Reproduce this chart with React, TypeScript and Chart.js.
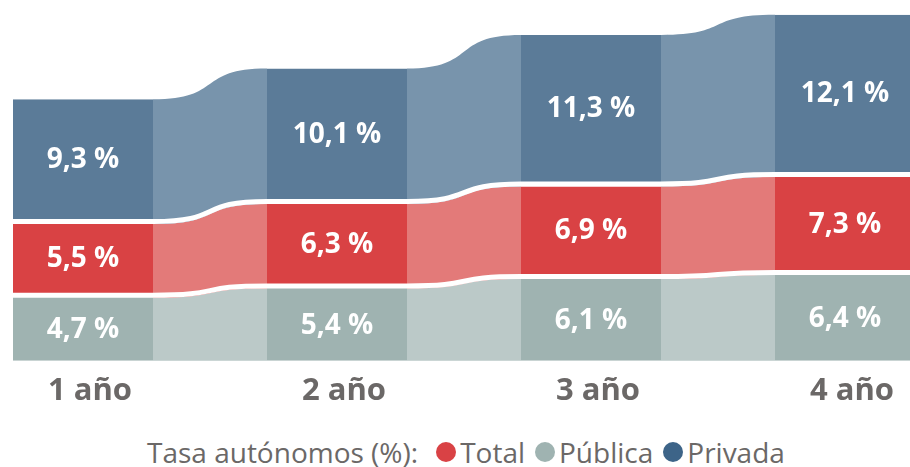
import React, { useEffect, useRef } from "react";
import { Chart, registerables } from "chart.js";

Chart.register(...registerables);

// ---- data ----
const categories = ["1 año", "2 año", "3 año", "4 año"];
const publica = [4.7, 5.4, 6.1, 6.4];
const total = [5.5, 6.3, 6.9, 7.3];
const privada = [9.3, 10.1, 11.3, 12.1];
const legendTitle = "Tasa autónomos (%):";
const legendNames = ["Total", "Pública", "Privada"];

// ---- styles ----
const barColors = ["#9fb3b1", "#d94244", "#5b7b98"];
const ribbonColors = ["#bbc9c8", "#e37a79", "#7894ac"];
const legendColors = ["#d94245", "#9fb3b1", "#3d6488"];
const GAP = 5;
const K = 0.62;
const FONT = '"Open Sans", "Noto Sans", sans-serif';
const XMIN = -83 / 254;
const XMAX = XMIN + 910 / 254;
const YMAX = 360 / 13.38;

function fmt(v: number) {
  return v.toFixed(1).replace(".", ",") + " %";
}

const ribbonPlugin = {
  id: "ribbons",
  beforeDatasetsDraw(chart: any) {
    const ctx = chart.ctx;
    const n = chart.data.datasets.length;
    ctx.save();
    for (let d = 0; d < n; d++) {
      const els = chart.getDatasetMeta(d).data;
      for (let i = 0; i < els.length - 1; i++) {
        const a = els[i].getProps(["x", "y", "base", "width"], true);
        const b = els[i + 1].getProps(["x", "y", "base", "width"], true);
        const x0 = a.x + a.width / 2;
        const x1 = b.x - b.width / 2;
        const w = x1 - x0;
        ctx.beginPath();
        ctx.moveTo(x0, a.y);
        ctx.bezierCurveTo(x0 + w * K, a.y, x1 - w * K, b.y, x1, b.y);
        ctx.lineTo(x1, b.base);
        ctx.bezierCurveTo(x1 - w * K, b.base, x0 + w * K, a.base, x0, a.base);
        ctx.closePath();
        ctx.fillStyle = ribbonColors[d];
        ctx.fill();
      }
    }
    for (let d = 1; d < n; d++) {
      const els = chart.getDatasetMeta(d).data;
      for (let i = 0; i < els.length - 1; i++) {
        const a = els[i].getProps(["x", "y", "base", "width"], true);
        const b = els[i + 1].getProps(["x", "y", "base", "width"], true);
        const x0 = a.x + a.width / 2;
        const x1 = b.x - b.width / 2;
        const w = x1 - x0;
        const ya = a.base - GAP / 2;
        const yb = b.base - GAP / 2;
        ctx.beginPath();
        ctx.moveTo(x0, ya);
        ctx.bezierCurveTo(x0 + w * K, ya, x1 - w * K, yb, x1, yb);
        ctx.lineWidth = GAP;
        ctx.strokeStyle = "#ffffff";
        ctx.stroke();
      }
    }
    ctx.restore();
  },
};

const labelPlugin = {
  id: "segLabels",
  afterDatasetsDraw(chart: any) {
    const ctx = chart.ctx;
    ctx.save();
    ctx.font = `bold 28px ${FONT}`;
    ctx.fillStyle = "#ffffff";
    ctx.textAlign = "center";
    ctx.textBaseline = "middle";
    chart.data.datasets.forEach((ds: any, d: number) => {
      const els = chart.getDatasetMeta(d).data;
      els.forEach((el: any, i: number) => {
        const p = el.getProps(["x", "y", "base"], true);
        const gap = d > 0 ? GAP : 0;
        const cy = (p.y + p.base - gap) / 2;
        ctx.fillText(fmt(ds.data[i].y), p.x, cy + 1);
      });
    });
    ctx.restore();
  },
};

export default function App() {
  const ref = useRef<HTMLCanvasElement>(null);

  useEffect(() => {
    const canvas = ref.current;
    if (!canvas) return;
    const mk = (vals: number[]) => vals.map((v, i) => ({ x: i, y: v }));
    const sep = { top: 0, left: 0, right: 0, bottom: GAP };
    const chart = new Chart(canvas, {
      type: "bar",
      data: {
        datasets: [
          { label: "Pública", data: mk(publica), backgroundColor: barColors[0], borderWidth: 0 },
          { label: "Total", data: mk(total), backgroundColor: barColors[1], borderColor: "#ffffff", borderWidth: sep, borderSkipped: false },
          { label: "Privada", data: mk(privada), backgroundColor: barColors[2], borderColor: "#ffffff", borderWidth: sep, borderSkipped: false },
        ] as any,
      },
      options: {
        animation: false,
        responsive: true,
        maintainAspectRatio: false,
        layout: { padding: 0 },
        datasets: { bar: { barThickness: 140, inflateAmount: 0 } as any },
        plugins: { legend: { display: false }, tooltip: { enabled: false } },
        scales: {
          x: {
            type: "linear",
            stacked: true,
            offset: false,
            min: XMIN,
            max: XMAX,
            grid: { display: false, drawTicks: false, offset: false },
            border: { display: false },
            afterBuildTicks: (s: any) => {
              s.ticks = categories.map((_, i) => ({ value: i }));
            },
            ticks: {
              autoSkip: false,
              maxRotation: 0,
              padding: 12,
              labelOffset: 7,
              color: "#6b6867",
              font: { family: FONT, size: 31, weight: "bold" },
              callback: (v: any) => categories[Math.round(Number(v))],
            },
          },
          y: { stacked: true, display: false, min: 0, max: YMAX },
        },
      } as any,
      plugins: [ribbonPlugin, labelPlugin],
    });
    return () => chart.destroy();
  }, []);

  return (
    <div style={{ position: "fixed", left: 0, top: 0, width: 910, height: 467, overflow: "hidden", background: "#fff" }}>
      <div style={{ position: "absolute", left: 0, top: 0, width: 910, height: 422 }}>
        <canvas ref={ref} />
      </div>
      <div
        style={{
          position: "absolute",
          left: 147,
          top: 433,
          display: "flex",
          alignItems: "center",
          fontFamily: FONT,
          fontSize: 28,
          color: "#6b6867",
          whiteSpace: "nowrap",
        }}
      >
        <span style={{ marginRight: 18 }}>{legendTitle}</span>
        {legendNames.map((name, i) => (
          <span key={name} style={{ display: "flex", alignItems: "center", marginRight: 10 }}>
            <span
              style={{
                display: "inline-block",
                width: 20,
                height: 20,
                borderRadius: "50%",
                background: legendColors[i],
                marginRight: 4,
              }}
            />
            {name}
          </span>
        ))}
      </div>
    </div>
  );
}
